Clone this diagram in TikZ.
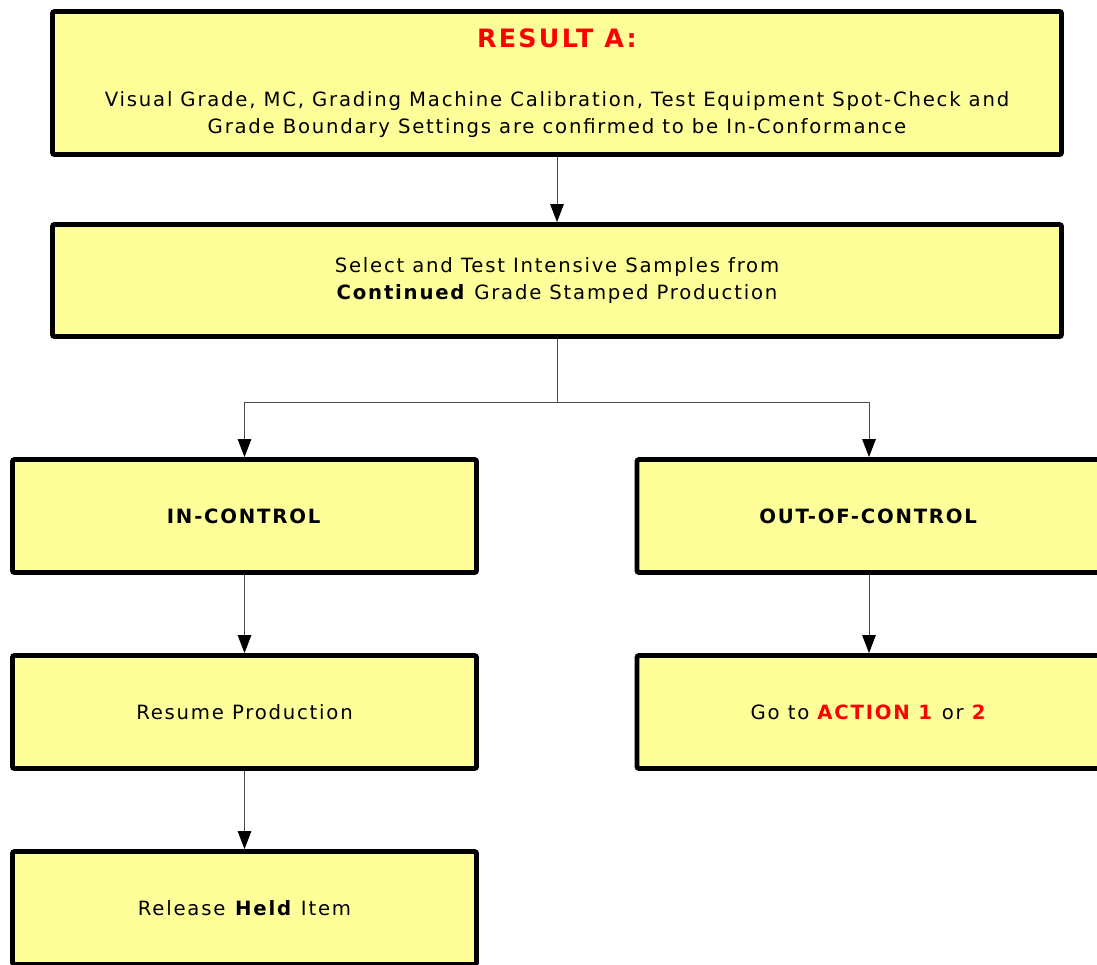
\documentclass[tikz,border=0pt]{standalone}
\usepackage{fontspec}
\setmainfont{DejaVu Sans}[LetterSpace=9]
\usepackage{xcolor}
\usepackage{tikz}
\usetikzlibrary{arrows.meta,positioning}
\definecolor{boxyellow}{HTML}{FFFF99}
\definecolor{alertred}{HTML}{FF0000}

\begin{document}
\begin{tikzpicture}[
    box/.style={rectangle, draw=black, fill=boxyellow, line width=3.5pt, rounded corners=1.5pt, minimum height=2.825cm, align=center, font=\fontsize{14}{19}\selectfont},
    widebox/.style={box, minimum width=25.225cm},
    halfbox/.style={box, minimum width=11.6cm},
    link/.style={draw=black!70, line width=0.7pt},
    arrow/.style={link, -{Triangle[length=4.5mm,width=3.4mm,black]}}
]
    \useasboundingbox (0,0) rectangle (27.425,-24.1);

    % Top result box
    \node[widebox, minimum height=3.575cm] (result) at (13.925,-2.075) {
        {\fontsize{18}{22}\selectfont\bfseries\color{alertred}RESULT A:}\\[0.8cm]
        Visual Grade, MC, Grading Machine Calibration, Test Equipment Spot-Check and\\
        Grade Boundary Settings are confirmed to be In-Conformance
    };

    % Sampling box
    \node[widebox, minimum height=2.8cm] (select) at (13.925,-7.0125) {
        Select and Test Intensive Samples from\\
        \textbf{Continued} Grade Stamped Production
    };

    % Branches
    \node[halfbox] (inctrl) at (6.1125,-12.9) {\textbf{IN-CONTROL}};
    \node[halfbox] (outctrl) at (21.725,-12.9) {\textbf{OUT-OF-CONTROL}};

    \node[halfbox] (resume) at (6.1125,-17.8) {Resume Production};
    \node[halfbox] (release) at (6.1125,-22.7) {Release \textbf{Held} Item};

    \node[halfbox] (goto) at (21.725,-17.8) {Go to \textcolor{alertred}{\textbf{ACTION 1}} or \textcolor{alertred}{\textbf{2}}};

    % Connectors
    \coordinate (split) at (13.925,-10.05);
    \draw[arrow] (result) -- (select);
    \draw[link] (select) -- (split);
    \draw[arrow] (split) -| (inctrl);
    \draw[arrow] (split) -| (outctrl);
    \draw[arrow] (inctrl) -- (resume);
    \draw[arrow] (resume) -- (release);
    \draw[arrow] (outctrl) -- (goto);
\end{tikzpicture}
\end{document}
